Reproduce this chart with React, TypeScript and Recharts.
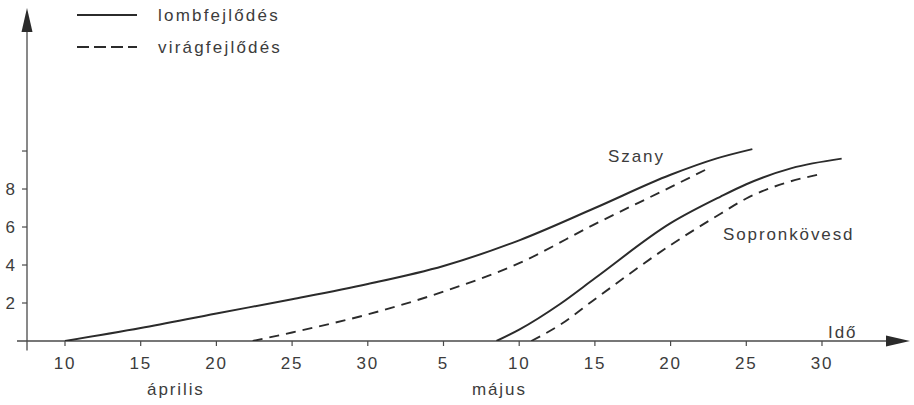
import React from 'react';
import { LineChart, Line, XAxis, YAxis, Legend, ReferenceLine, ReferenceDot } from 'recharts';

// day index: April 10 = 10 ... April 30 = 30, May 5 = 35 ... May 30 = 60
const xTicks = [10, 15, 20, 25, 30, 35, 40, 45, 50, 55, 60];
const yTicks = [2, 4, 6, 8, 10];

const szanyLomb = [
  { d: 10, v: 0 }, { d: 15, v: 0.68 }, { d: 20, v: 1.45 }, { d: 25, v: 2.2 },
  { d: 30, v: 3.0 }, { d: 35, v: 3.95 }, { d: 40, v: 5.3 }, { d: 45, v: 7.0 },
  { d: 50, v: 8.75 }, { d: 53, v: 9.6 }, { d: 55.4, v: 10.1 },
];
const szanyVirag = [
  { d: 22.4, v: 0 }, { d: 25, v: 0.45 }, { d: 30, v: 1.4 }, { d: 35, v: 2.6 },
  { d: 40, v: 4.1 }, { d: 45, v: 6.15 }, { d: 50, v: 8.1 }, { d: 52.4, v: 9.05 },
];
const sopronLomb = [
  { d: 38.5, v: 0 }, { d: 40, v: 0.6 }, { d: 42.7, v: 1.95 }, { d: 45, v: 3.3 },
  { d: 50, v: 6.2 }, { d: 53.3, v: 7.6 }, { d: 55, v: 8.25 }, { d: 58, v: 9.1 },
  { d: 61.3, v: 9.6 },
];
const sopronVirag = [
  { d: 40.8, v: 0 }, { d: 42.7, v: 0.85 }, { d: 45, v: 2.2 }, { d: 50, v: 5.05 },
  { d: 53.3, v: 6.7 }, { d: 55, v: 7.5 }, { d: 57.5, v: 8.3 }, { d: 59.7, v: 8.75 },
];

const legendItems = [
  { label: 'lombfejlődés', dash: '' },
  { label: 'virágfejlődés', dash: '12 5' },
];

const annotations = [
  { text: 'Szany', d: 45.87, v: 9.42 },
  { text: 'Sopronkövesd', d: 53.46, v: 5.32 },
  { text: 'Idő', d: 60.4, v: 0.16 },
  { text: 'április', d: 15.42, v: -2.84 },
  { text: 'május', d: 36.88, v: -2.84 },
];

const X_MIN = 7.49;
const X_MAX = 64.36;
const Y_MAX = 16.37;

const INK = '#2b2b2b';
const TEXT = '#3c3c3c';
const AXIS = '#4a4a4a';
const FONT = '"Liberation Sans", Arial, sans-serif';

const fmtX = (d: number) => String(d > 30 ? d - 30 : d);
const fmtY = (v: number) => (v === 10 ? '' : String(v));

const LegendContent = () => (
  <svg width={400} height={70} style={{ display: 'block', overflow: 'visible' }}>
    {legendItems.map((it, i) => {
      const y = 15 + i * 32;
      return (
        <g key={it.label}>
          <line x1={77} x2={137} y1={y} y2={y} stroke={INK} strokeWidth={2} strokeDasharray={it.dash || undefined} />
          <text x={158} y={y + 6} fontFamily={FONT} fontSize={17} letterSpacing={2.2} fill={TEXT}>
            {it.label}
          </text>
        </g>
      );
    })}
  </svg>
);

export default function App() {
  return (
    <div style={{ position: 'absolute', left: 0, top: 0, width: 914, height: 405, background: '#fff' }}>
      <LineChart width={914} height={405} margin={{ top: 30, right: 26, bottom: 14, left: 0 }}>
        <XAxis
          type="number"
          dataKey="d"
          domain={[X_MIN, X_MAX]}
          allowDataOverflow
          ticks={xTicks}
          tickFormatter={fmtX}
          axisLine={false}
          tickLine={{ stroke: AXIS, strokeWidth: 1.2 }}
          tickSize={5}
          tickMargin={11}
          height={50}
          tick={{ fill: TEXT, fontSize: 17, fontFamily: FONT, letterSpacing: 1.8 }}
        />
        <YAxis
          type="number"
          dataKey="v"
          domain={[0, Y_MAX]}
          allowDataOverflow
          ticks={yTicks}
          tickFormatter={fmtY}
          axisLine={false}
          tickLine={{ stroke: AXIS, strokeWidth: 1.2 }}
          tickSize={5}
          tickMargin={7}
          width={27}
          tick={{ fill: TEXT, fontSize: 17, fontFamily: FONT }}
        />
        <Legend
          layout="vertical"
          align="center"
          verticalAlign="top"
          content={LegendContent}
          wrapperStyle={{ position: 'absolute', left: 0, top: 0, width: 0, height: 0, overflow: 'visible' }}
        />
        <ReferenceLine
          segment={[{ x: 6.83, y: 0 }, { x: X_MAX, y: 0 }]}
          stroke={AXIS}
          strokeWidth={1.3}
          ifOverflow="visible"
        />
        <ReferenceLine
          segment={[{ x: X_MIN, y: -0.5 }, { x: X_MIN, y: Y_MAX }]}
          stroke={AXIS}
          strokeWidth={1.3}
          ifOverflow="visible"
        />
        <ReferenceDot
          x={X_MAX}
          y={0}
          ifOverflow="visible"
          shape={(p: any) => (
            <polygon points={`${p.cx - 2},${p.cy - 5.5} ${p.cx + 22},${p.cy} ${p.cx - 2},${p.cy + 5.5}`} fill={INK} />
          )}
        />
        <ReferenceDot
          x={X_MIN}
          y={Y_MAX}
          ifOverflow="visible"
          shape={(p: any) => (
            <polygon points={`${p.cx - 5.5},${p.cy + 2} ${p.cx},${p.cy - 22} ${p.cx + 5.5},${p.cy + 2}`} fill={INK} />
          )}
        />
        {annotations.map((a) => (
          <ReferenceDot
            key={a.text}
            x={a.d}
            y={a.v}
            ifOverflow="visible"
            shape={(p: any) => (
              <text x={p.cx} y={p.cy} fontFamily={FONT} fontSize={17} letterSpacing={1.9} fill={TEXT}>
                {a.text}
              </text>
            )}
          />
        ))}
        <Line data={szanyLomb} dataKey="v" type="monotone" stroke={INK} strokeWidth={2} dot={false} activeDot={false} isAnimationActive={false} />
        <Line data={szanyVirag} dataKey="v" type="monotone" stroke={INK} strokeWidth={1.9} strokeDasharray="10 7" dot={false} activeDot={false} isAnimationActive={false} />
        <Line data={sopronLomb} dataKey="v" type="monotone" stroke={INK} strokeWidth={2} dot={false} activeDot={false} isAnimationActive={false} />
        <Line data={sopronVirag} dataKey="v" type="monotone" stroke={INK} strokeWidth={1.9} strokeDasharray="10 7" dot={false} activeDot={false} isAnimationActive={false} />
      </LineChart>
    </div>
  );
}
